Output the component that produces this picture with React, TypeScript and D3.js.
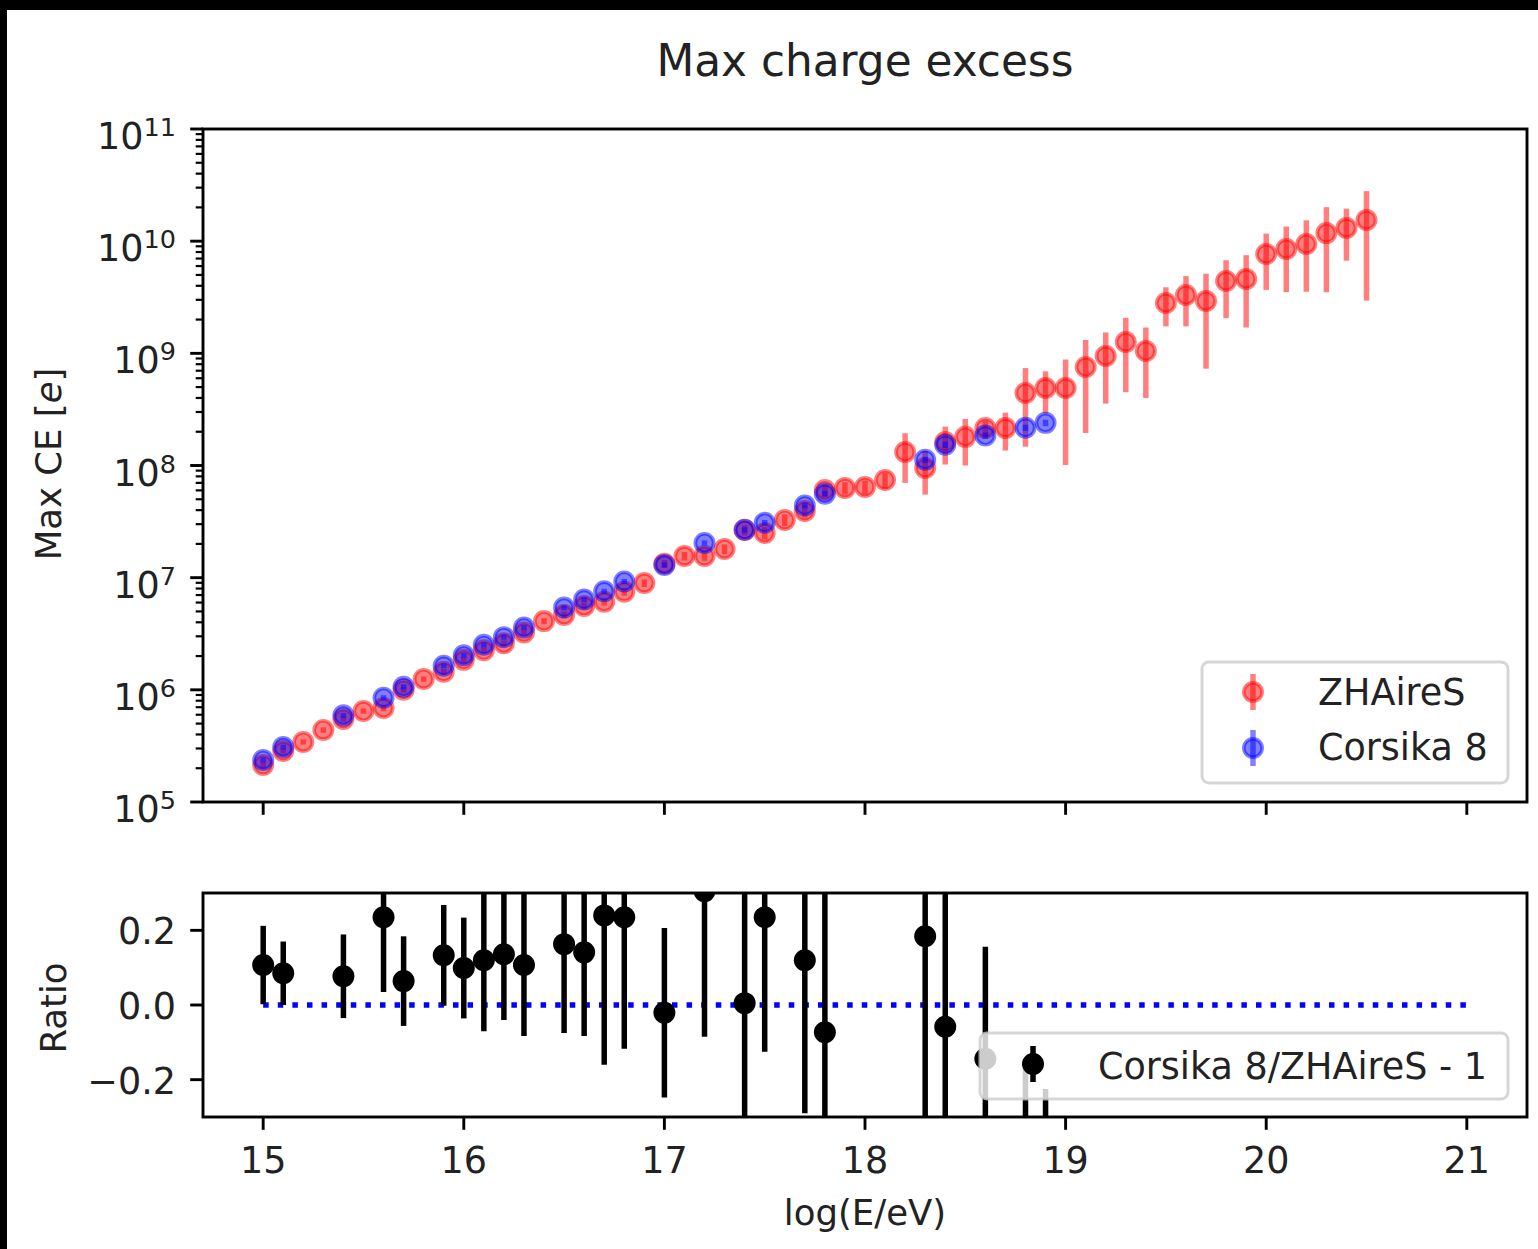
import React from 'react';
import * as d3 from 'd3';

// ---------- data ----------
const zhairesE = [15.0, 15.1, 15.2, 15.3, 15.4, 15.5, 15.6, 15.7, 15.8, 15.9,
  16.0, 16.1, 16.2, 16.3, 16.4, 16.5, 16.6, 16.7, 16.8, 16.9,
  17.0, 17.1, 17.2, 17.3, 17.4, 17.5, 17.6, 17.7, 17.8, 17.9,
  18.0, 18.1, 18.2, 18.3, 18.4, 18.5, 18.6, 18.7, 18.8, 18.9,
  19.0, 19.1, 19.2, 19.3, 19.4, 19.5, 19.6, 19.7, 19.8, 19.9,
  20.0, 20.1, 20.2, 20.3, 20.4, 20.5];
const zhairesCE = [2.14e5, 2.85e5, 3.43e5, 4.39e5, 5.5e5, 6.47e5, 6.89e5, 1.0e6, 1.25e6, 1.45e6,
  1.85e6, 2.25e6, 2.6e6, 3.25e6, 4.1e6, 4.65e6, 5.6e6, 6.1e6, 7.5e6, 8.96e6,
  1.33e7, 1.56e7, 1.56e7, 1.8e7, 2.66e7, 2.5e7, 3.27e7, 3.93e7, 6.04e7, 6.3e7,
  6.43e7, 7.43e7, 1.32e8, 9.5e7, 1.62e8, 1.8e8, 2.16e8, 2.16e8, 4.43e8, 4.91e8,
  4.91e8, 7.55e8, 9.46e8, 1.26e9, 1.05e9, 2.81e9, 3.31e9, 2.93e9, 4.41e9, 4.6e9,
  7.68e9, 8.51e9, 9.44e9, 1.18e10, 1.31e10, 1.545e10];
const zhairesErr = [1.2e4, 1.5e4, 1.8e4, 2.5e4, 3.0e4, 3.5e4, 4.5e4, 6e4, 7e4, 9e4,
  1.1e5, 1.4e5, 1.6e5, 2.0e5, 2.6e5, 3.2e5, 4.0e5, 4.6e5, 6e5, 7e5,
  1.1e6, 1.4e6, 1.5e6, 1.8e6, 2.8e6, 3.2e6, 4.0e6, 5.0e6, 7.5e6, 8e6,
  9e6, 1.2e7, 6.2e7, 4.0e7, 6.0e7, 8.0e7, 3.5e7, 8.0e7, 2.96e8, 2.0e8,
  3.9e8, 5.6e8, 5.9e8, 8.1e8, 6.5e8, 1.07e9, 1.57e9, 2.2e9, 2.35e9, 2.9e9,
  4.0e9, 5.0e9, 5.9e9, 8.3e9, 6.4e9, 1.25e10];

const corsikaE = [15.0, 15.1, 15.4, 15.6, 15.7, 15.9, 16.0, 16.1, 16.2, 16.3,
  16.5, 16.6, 16.7, 16.8, 17.0, 17.2, 17.4, 17.5, 17.7, 17.8,
  18.3, 18.4, 18.6, 18.8, 18.9];
const corsikaCE = [2.37e5, 3.09e5, 5.92e5, 8.51e5, 1.064e6, 1.64e6, 2.03e6, 2.52e6, 2.95e6, 3.6e6,
  5.41e6, 6.39e6, 7.56e6, 9.26e6, 1.30e7, 2.04e7, 2.67e7, 3.09e7, 4.4e7, 5.6e7,
  1.125e8, 1.53e8, 1.85e8, 2.17e8, 2.4e8];
const corsikaErr = [1.2e4, 1.6e4, 3e4, 4.5e4, 5.5e4, 8e4, 1.0e5, 1.3e5, 1.5e5, 1.8e5,
  2.8e5, 3.3e5, 4e5, 4.8e5, 7e5, 1.1e6, 1.5e6, 1.8e6, 2.6e6, 3.3e6,
  7e6, 1.0e7, 1.2e7, 1.4e7, 1.6e7];

const ratioE = [15.0, 15.1, 15.4, 15.6, 15.7, 15.9, 16.0, 16.1, 16.2, 16.3,
  16.5, 16.6, 16.7, 16.8, 17.0, 17.2, 17.4, 17.5, 17.7, 17.8,
  18.3, 18.4, 18.6, 18.8, 18.9];
const ratioVal = [0.107, 0.085, 0.077, 0.235, 0.064, 0.133, 0.099, 0.12, 0.136, 0.107,
  0.163, 0.141, 0.24, 0.235, -0.021, 0.305, 0.005, 0.235, 0.12, -0.073,
  0.184, -0.058, -0.144, -0.51, -0.51];
const ratioErr = [0.105, 0.085, 0.112, 0.2, 0.12, 0.135, 0.135, 0.19, 0.176, 0.19,
  0.238, 0.224, 0.4, 0.352, 0.227, 0.39, 0.45, 0.36, 0.41, 0.5,
  0.6, 0.6, 0.3, 0.34, 0.285];

const xTickValues = [15, 16, 17, 18, 19, 20, 21];
const yTopExponents = [5, 6, 7, 8, 9, 10, 11];
const ratioTickValues = [-0.2, 0.0, 0.2];
const refLine = [15, 21];

const title = 'Max charge excess';
const seriesNames = ['ZHAireS', 'Corsika 8'];
const ratioName = 'Corsika 8/ZHAireS - 1';

// ---------- layout ----------
const W = 1538;
const H = 1249;
const L = 203, R = 1527;
const T1 = 129, B1 = 802;
const T2 = 893, B2 = 1117;
const FONT = 'DejaVu Sans, sans-serif';
const FS = 36.5;
const TICKFS = 36.5;
const SPINE = 2.9;
const MAJ = 12.8;
const MIN = 7.3;
const EBW = 5.5;
const MR = 11;
const MEW = 3.65;

const x = d3.scaleLinear().domain([14.7, 21.3]).range([L, R]);
const yTop = d3.scaleLog().domain([1e5, 1e11]).range([B1, T1]);
const yBot = d3.scaleLinear().domain([-0.3, 0.3]).range([B2, T2]);

function minorTicks(): number[] {
  const out: number[] = [];
  for (let e = 5; e < 11; e++) {
    for (let m = 2; m <= 9; m++) out.push(m * Math.pow(10, e));
  }
  return out;
}

const RED = 'rgb(255,0,0)';
const BLUE = 'rgb(0,0,255)';

function ErrSeries({ xs, ys, es, color, opacity, yScale }: any) {
  return (
    <g opacity={1}>
      {xs.map((xv: number, i: number) => {
        const lo = Math.max(ys[i] - es[i], yScale.domain()[0] * 1e-6);
        const hi = ys[i] + es[i];
        return (
          <line key={'b' + i} x1={x(xv)} x2={x(xv)} y1={yScale(lo)} y2={yScale(hi)}
            stroke={color} strokeOpacity={opacity} strokeWidth={EBW} />
        );
      })}
      {xs.map((xv: number, i: number) => (
        <circle key={'m' + i} cx={x(xv)} cy={yScale(ys[i])} r={MR - MEW / 2}
          fill={color} fillOpacity={opacity} stroke={color} strokeOpacity={opacity} strokeWidth={MEW} />
      ))}
    </g>
  );
}

function RatioSeries() {
  return (
    <g clipPath="url(#clipBot)">
      {ratioE.map((xv, i) => (
        <line key={'rb' + i} x1={x(xv)} x2={x(xv)} y1={yBot(ratioVal[i] - ratioErr[i])}
          y2={yBot(ratioVal[i] + ratioErr[i])} stroke="#000" strokeWidth={EBW} />
      ))}
      {ratioE.map((xv, i) => (
        <circle key={'rm' + i} cx={x(xv)} cy={yBot(ratioVal[i])} r={MR - MEW / 2}
          fill="#000" stroke="#000" strokeWidth={MEW} />
      ))}
    </g>
  );
}

function LegendHandle({ cx, cy, color, opacity }: any) {
  return (
    <g>
      <line x1={cx} x2={cx} y1={cy - 18} y2={cy + 18} stroke={color} strokeOpacity={opacity} strokeWidth={EBW} />
      <circle cx={cx} cy={cy} r={MR - MEW / 2} fill={color} fillOpacity={opacity}
        stroke={color} strokeOpacity={opacity} strokeWidth={MEW} />
    </g>
  );
}

export default function App() {
  const minors = minorTicks();
  return (
    <svg width={W} height={H} viewBox={`0 0 ${W} ${H}`}
      style={{ position: 'absolute', left: 0, top: 0, display: 'block', background: '#fff' }}
      fontFamily={FONT}>
      <defs>
        <clipPath id="clipBot">
          <rect x={L} y={T2} width={R - L} height={B2 - T2} />
        </clipPath>
        <clipPath id="clipTop">
          <rect x={L} y={T1} width={R - L} height={B1 - T1} />
        </clipPath>
      </defs>
      <rect x={0} y={0} width={W} height={H} fill="#fff" />
      {/* black frame strips */}
      <rect x={0} y={0} width={W} height={10} fill="#000" />
      <rect x={0} y={0} width={7} height={H} fill="#000" />

      {/* title */}
      <text x={(L + R) / 2} y={76} textAnchor="middle" fontSize={43.8} fill="#222">{title}</text>

      {/* ---------- top panel ---------- */}
      <g clipPath="url(#clipTop)">
        <ErrSeries xs={zhairesE} ys={zhairesCE} es={zhairesErr} color={RED} opacity={0.5} yScale={yTop} />
        <ErrSeries xs={corsikaE} ys={corsikaCE} es={corsikaErr} color={BLUE} opacity={0.5} yScale={yTop} />
      </g>

      {/* top legend */}
      <g>
        <rect x={1202} y={662} width={306} height={121} rx={7} fill="#fff" fillOpacity={0.8}
          stroke="#cccccc" strokeOpacity={0.8} strokeWidth={3} />
        <LegendHandle cx={1253} cy={692} color={RED} opacity={0.5} />
        <LegendHandle cx={1253} cy={748} color={BLUE} opacity={0.5} />
        <text x={1318} y={705} fontSize={FS} fill="#222">{seriesNames[0]}</text>
        <text x={1318} y={760} fontSize={FS} fill="#222">{seriesNames[1]}</text>
      </g>

      {/* top axes frame */}
      <rect x={L} y={T1} width={R - L} height={B1 - T1} fill="none" stroke="#000" strokeWidth={SPINE} />
      {/* y major ticks */}
      {yTopExponents.map((e) => {
        const yy = yTop(Math.pow(10, e));
        return (
          <g key={'ym' + e}>
            <line x1={L - MAJ} x2={L} y1={yy} y2={yy} stroke="#000" strokeWidth={SPINE} />
            <text x={176} y={yy + 20} textAnchor="end" fontSize={TICKFS} fill="#222">
              10<tspan dy={-13} fontSize={25.5}>{e}</tspan>
            </text>
          </g>
        );
      })}
      {minors.map((v, i) => (
        <line key={'yn' + i} x1={L - MIN} x2={L} y1={yTop(v)} y2={yTop(v)} stroke="#000" strokeWidth={2.2} />
      ))}
      {xTickValues.map((t) => (
        <line key={'xt1' + t} x1={x(t)} x2={x(t)} y1={B1} y2={B1 + MAJ} stroke="#000" strokeWidth={SPINE} />
      ))}
      <text transform={`translate(61, 464) rotate(-90)`} textAnchor="middle" fontSize={35.5} fill="#222">
        Max CE [<tspan fontStyle="italic">e</tspan>]
      </text>

      {/* ---------- bottom panel ---------- */}
      <g clipPath="url(#clipBot)">
        <line x1={x(refLine[0])} x2={x(refLine[1])} y1={yBot(0)} y2={yBot(0)} stroke={BLUE}
          strokeWidth={5.5} strokeDasharray="5.5 9.1" />
      </g>
      <RatioSeries />

      {/* bottom legend */}
      <g>
        <rect x={980} y={1033} width={528} height={66} rx={7} fill="#fff" fillOpacity={0.8}
          stroke="#cccccc" strokeOpacity={0.8} strokeWidth={3} />
        <LegendHandle cx={1033} cy={1064} color="#000" opacity={1} />
        <text x={1098} y={1079} fontSize={FS} fill="#222">{ratioName}</text>
      </g>

      <rect x={L} y={T2} width={R - L} height={B2 - T2} fill="none" stroke="#000" strokeWidth={SPINE} />
      {ratioTickValues.map((t) => (
        <g key={'rt' + t}>
          <line x1={L - MAJ} x2={L} y1={yBot(t)} y2={yBot(t)} stroke="#000" strokeWidth={SPINE} />
          <text x={176} y={yBot(t) + 14} textAnchor="end" fontSize={TICKFS} fill="#222">
            {d3.format('.1f')(t).replace('-', '\u2212')}
          </text>
        </g>
      ))}
      {xTickValues.map((t) => (
        <g key={'xt2' + t}>
          <line x1={x(t)} x2={x(t)} y1={B2} y2={B2 + MAJ} stroke="#000" strokeWidth={SPINE} />
          <text x={x(t)} y={1173} textAnchor="middle" fontSize={TICKFS} fill="#222">{t}</text>
        </g>
      ))}
      <text transform={`translate(66, 1008) rotate(-90)`} textAnchor="middle" fontSize={35.5} fill="#222">Ratio</text>
      <text x={(L + R) / 2} y={1225} textAnchor="middle" fontSize={35.5} fill="#222">log(E/eV)</text>
    </svg>
  );
}
